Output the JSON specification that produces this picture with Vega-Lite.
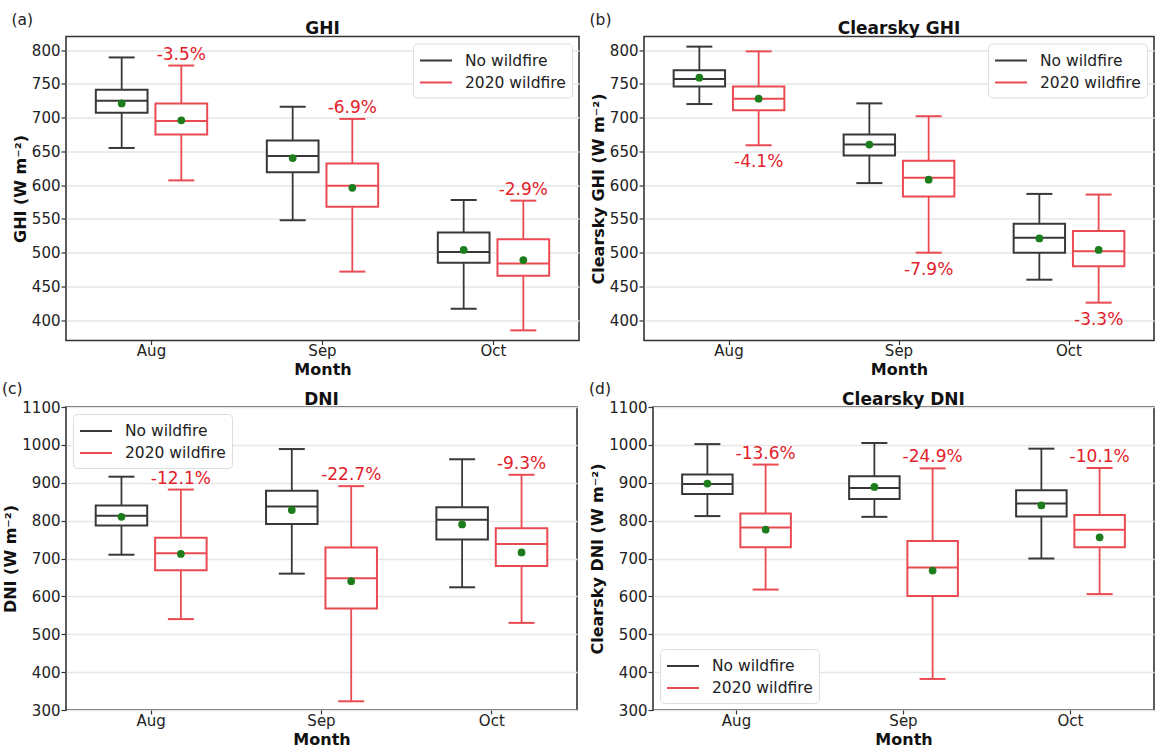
{
  "$schema": "https://vega.github.io/schema/vega-lite/v6.json",
  "background": "white",
  "padding": {"left": 2, "top": 12.5, "right": 0, "bottom": 0},
  "datasets": {
    "boxes": [
      {"panel": "GHI", "month": "Aug", "group": "No wildfire", "lower": 655, "q1": 707, "median": 725, "q3": 741, "upper": 789, "mean": 721, "change": null},
      {"panel": "GHI", "month": "Aug", "group": "2020 wildfire", "lower": 607, "q1": 675, "median": 695, "q3": 721, "upper": 777, "mean": 696, "change": "-3.5%"},
      {"panel": "GHI", "month": "Sep", "group": "No wildfire", "lower": 548, "q1": 619, "median": 643, "q3": 666, "upper": 716, "mean": 640, "change": null},
      {"panel": "GHI", "month": "Sep", "group": "2020 wildfire", "lower": 472, "q1": 568, "median": 599, "q3": 632, "upper": 698, "mean": 596, "change": "-6.9%"},
      {"panel": "GHI", "month": "Oct", "group": "No wildfire", "lower": 417, "q1": 485, "median": 501, "q3": 530, "upper": 578, "mean": 504, "change": null},
      {"panel": "GHI", "month": "Oct", "group": "2020 wildfire", "lower": 385, "q1": 466, "median": 484, "q3": 520, "upper": 577, "mean": 489, "change": "-2.9%"},

      {"panel": "CGHI", "month": "Aug", "group": "No wildfire", "lower": 720, "q1": 746, "median": 757, "q3": 770, "upper": 805, "mean": 759, "change": null},
      {"panel": "CGHI", "month": "Aug", "group": "2020 wildfire", "lower": 659, "q1": 711, "median": 728, "q3": 746, "upper": 798, "mean": 728, "change": "-4.1%"},
      {"panel": "CGHI", "month": "Sep", "group": "No wildfire", "lower": 603, "q1": 644, "median": 660, "q3": 675, "upper": 721, "mean": 660, "change": null},
      {"panel": "CGHI", "month": "Sep", "group": "2020 wildfire", "lower": 500, "q1": 583, "median": 611, "q3": 636, "upper": 702, "mean": 608, "change": "-7.9%"},
      {"panel": "CGHI", "month": "Oct", "group": "No wildfire", "lower": 460, "q1": 500, "median": 522, "q3": 543, "upper": 587, "mean": 521, "change": null},
      {"panel": "CGHI", "month": "Oct", "group": "2020 wildfire", "lower": 426, "q1": 480, "median": 502, "q3": 532, "upper": 586, "mean": 504, "change": "-3.3%"},

      {"panel": "DNI", "month": "Aug", "group": "No wildfire", "lower": 710, "q1": 787, "median": 813, "q3": 840, "upper": 916, "mean": 810, "change": null},
      {"panel": "DNI", "month": "Aug", "group": "2020 wildfire", "lower": 540, "q1": 669, "median": 714, "q3": 755, "upper": 882, "mean": 712, "change": "-12.1%"},
      {"panel": "DNI", "month": "Sep", "group": "No wildfire", "lower": 660, "q1": 791, "median": 837, "q3": 879, "upper": 989, "mean": 828, "change": null},
      {"panel": "DNI", "month": "Sep", "group": "2020 wildfire", "lower": 323, "q1": 568, "median": 648, "q3": 729, "upper": 891, "mean": 640, "change": "-22.7%"},
      {"panel": "DNI", "month": "Oct", "group": "No wildfire", "lower": 624, "q1": 750, "median": 802, "q3": 835, "upper": 962, "mean": 790, "change": null},
      {"panel": "DNI", "month": "Oct", "group": "2020 wildfire", "lower": 530, "q1": 680, "median": 738, "q3": 780, "upper": 921, "mean": 716, "change": "-9.3%"},

      {"panel": "CDNI", "month": "Aug", "group": "No wildfire", "lower": 812, "q1": 870, "median": 897, "q3": 922, "upper": 1002, "mean": 898, "change": null},
      {"panel": "CDNI", "month": "Aug", "group": "2020 wildfire", "lower": 618, "q1": 730, "median": 782, "q3": 819, "upper": 948, "mean": 776, "change": "-13.6%"},
      {"panel": "CDNI", "month": "Sep", "group": "No wildfire", "lower": 810, "q1": 857, "median": 886, "q3": 917, "upper": 1005, "mean": 889, "change": null},
      {"panel": "CDNI", "month": "Sep", "group": "2020 wildfire", "lower": 382, "q1": 601, "median": 676, "q3": 746, "upper": 938, "mean": 668, "change": "-24.9%"},
      {"panel": "CDNI", "month": "Oct", "group": "No wildfire", "lower": 700, "q1": 811, "median": 845, "q3": 880, "upper": 990, "mean": 840, "change": null},
      {"panel": "CDNI", "month": "Oct", "group": "2020 wildfire", "lower": 606, "q1": 730, "median": 776, "q3": 815, "upper": 939, "mean": 756, "change": "-10.1%"}
    ]
  },
  "columns": 2,
  "align": "none",
  "spacing": {"row": 2.5, "column": 9},
  "resolve": {"scale": {"stroke": "independent", "color": "independent", "y": "independent", "x": "independent", "xOffset": "independent"}, "legend": {"stroke": "independent", "color": "independent"}},
  "concat": [
    {
      "title": {"text": "(a)", "anchor": "start", "frame": "bounds", "font": "DejaVu Sans", "fontSize": 15.5, "fontWeight": "normal", "offset": -9.5, "color": "#222"},
      "resolve": {"scale": {"stroke": "independent", "color": "independent"}, "legend": {"stroke": "independent", "color": "independent"}},
      "vconcat": [
        {
          "width": 513, "height": 304,
          "title": {"text": "GHI", "offset": -1},
          "data": {"name": "boxes"},
          "transform": [{"filter": "datum.panel === 'GHI'"}],
          "encoding": {
            "x": {"field": "month", "type": "nominal", "sort": ["Aug", "Sep", "Oct"], "scale": {"paddingInner": 0, "paddingOuter": 0}, "axis": {"title": "Month", "labelAngle": 0}},
            "xOffset": {"field": "group", "type": "nominal", "sort": ["No wildfire", "2020 wildfire"], "scale": {"paddingInner": 0.133, "paddingOuter": 0.5}}
          },
          "layer": [
            {"mark": {"type": "rule", "strokeWidth": 1.8},
             "encoding": {
               "y": {"field": "lower", "type": "quantitative", "title": "GHI (W m⁻²)", "scale": {"domain": [370, 820], "nice": false, "zero": false}, "axis": {"values": [400, 450, 500, 550, 600, 650, 700, 750, 800]}},
               "y2": {"field": "upper"},
               "stroke": {"field": "group", "type": "nominal", "scale": {"domain": ["No wildfire", "2020 wildfire"], "range": ["#383838", "#ea4b52"]}, "legend": {"orient": "top-right"}}
             }},
            {"mark": {"type": "bar", "fill": "white", "strokeWidth": 2},
             "encoding": {"y": {"field": "q1", "type": "quantitative", "title": "GHI (W m⁻²)", "axis": {"values": [400, 450, 500, 550, 600, 650, 700, 750, 800]}}, "y2": {"field": "q3"}, "stroke": {"field": "group", "type": "nominal", "legend": null}}},
            {"mark": {"type": "tick", "thickness": 2, "size": 52, "opacity": 1},
             "encoding": {"y": {"field": "median", "type": "quantitative", "title": "GHI (W m⁻²)", "axis": {"values": [400, 450, 500, 550, 600, 650, 700, 750, 800]}}, "color": {"field": "group", "type": "nominal", "scale": {"domain": ["No wildfire", "2020 wildfire"], "range": ["#383838", "#ea4b52"]}, "legend": null}}},
            {"mark": {"type": "tick", "thickness": 2, "size": 26, "opacity": 1},
             "encoding": {"y": {"field": "upper", "type": "quantitative", "title": "GHI (W m⁻²)", "axis": {"values": [400, 450, 500, 550, 600, 650, 700, 750, 800]}}, "color": {"field": "group", "type": "nominal", "legend": null}}},
            {"mark": {"type": "tick", "thickness": 2, "size": 26, "opacity": 1},
             "encoding": {"y": {"field": "lower", "type": "quantitative", "title": "GHI (W m⁻²)", "axis": {"values": [400, 450, 500, 550, 600, 650, 700, 750, 800]}}, "color": {"field": "group", "type": "nominal", "legend": null}}},
            {"mark": {"type": "circle", "size": 60, "color": "#1d7d1d", "opacity": 1},
             "encoding": {"y": {"field": "mean", "type": "quantitative", "title": "GHI (W m⁻²)", "axis": {"values": [400, 450, 500, 550, 600, 650, 700, 750, 800]}}}},
            {"transform": [{"filter": "datum.change != null"}],
             "mark": {"type": "text", "font": "DejaVu Sans", "fontSize": 17, "color": "#e3212a", "baseline": "alphabetic", "dy": -6},
             "encoding": {"y": {"field": "upper", "type": "quantitative", "title": "GHI (W m⁻²)", "axis": {"values": [400, 450, 500, 550, 600, 650, 700, 750, 800]}}, "text": {"field": "change"}}}
          ]
        }
      ]
    },
    {
      "title": {"text": "(b)", "anchor": "start", "frame": "bounds", "font": "DejaVu Sans", "fontSize": 15.5, "fontWeight": "normal", "offset": -9.5, "color": "#222"},
      "resolve": {"scale": {"stroke": "independent", "color": "independent"}, "legend": {"stroke": "independent", "color": "independent"}},
      "vconcat": [
        {
          "width": 510, "height": 304,
          "title": {"text": "Clearsky GHI", "offset": -1},
          "data": {"name": "boxes"},
          "transform": [{"filter": "datum.panel === 'CGHI'"}],
          "encoding": {
            "x": {"field": "month", "type": "nominal", "sort": ["Aug", "Sep", "Oct"], "scale": {"paddingInner": 0, "paddingOuter": 0}, "axis": {"title": "Month", "labelAngle": 0}},
            "xOffset": {"field": "group", "type": "nominal", "sort": ["No wildfire", "2020 wildfire"], "scale": {"paddingInner": 0.133, "paddingOuter": 0.5}}
          },
          "layer": [
            {"mark": {"type": "rule", "strokeWidth": 1.8},
             "encoding": {
               "y": {"field": "lower", "type": "quantitative", "title": "Clearsky GHI (W m⁻²)", "scale": {"domain": [370, 820], "nice": false, "zero": false}, "axis": {"values": [400, 450, 500, 550, 600, 650, 700, 750, 800]}},
               "y2": {"field": "upper"},
               "stroke": {"field": "group", "type": "nominal", "scale": {"domain": ["No wildfire", "2020 wildfire"], "range": ["#383838", "#ea4b52"]}, "legend": {"orient": "top-right"}}
             }},
            {"mark": {"type": "bar", "fill": "white", "strokeWidth": 2},
             "encoding": {"y": {"field": "q1", "type": "quantitative", "title": "Clearsky GHI (W m⁻²)", "axis": {"values": [400, 450, 500, 550, 600, 650, 700, 750, 800]}}, "y2": {"field": "q3"}, "stroke": {"field": "group", "type": "nominal", "legend": null}}},
            {"mark": {"type": "tick", "thickness": 2, "size": 52, "opacity": 1},
             "encoding": {"y": {"field": "median", "type": "quantitative", "title": "Clearsky GHI (W m⁻²)", "axis": {"values": [400, 450, 500, 550, 600, 650, 700, 750, 800]}}, "color": {"field": "group", "type": "nominal", "scale": {"domain": ["No wildfire", "2020 wildfire"], "range": ["#383838", "#ea4b52"]}, "legend": null}}},
            {"mark": {"type": "tick", "thickness": 2, "size": 26, "opacity": 1},
             "encoding": {"y": {"field": "upper", "type": "quantitative", "title": "Clearsky GHI (W m⁻²)", "axis": {"values": [400, 450, 500, 550, 600, 650, 700, 750, 800]}}, "color": {"field": "group", "type": "nominal", "legend": null}}},
            {"mark": {"type": "tick", "thickness": 2, "size": 26, "opacity": 1},
             "encoding": {"y": {"field": "lower", "type": "quantitative", "title": "Clearsky GHI (W m⁻²)", "axis": {"values": [400, 450, 500, 550, 600, 650, 700, 750, 800]}}, "color": {"field": "group", "type": "nominal", "legend": null}}},
            {"mark": {"type": "circle", "size": 60, "color": "#1d7d1d", "opacity": 1},
             "encoding": {"y": {"field": "mean", "type": "quantitative", "title": "Clearsky GHI (W m⁻²)", "axis": {"values": [400, 450, 500, 550, 600, 650, 700, 750, 800]}}}},
            {"transform": [{"filter": "datum.change != null"}],
             "mark": {"type": "text", "font": "DejaVu Sans", "fontSize": 17, "color": "#e3212a", "baseline": "alphabetic", "dy": 22},
             "encoding": {"y": {"field": "lower", "type": "quantitative", "title": "Clearsky GHI (W m⁻²)", "axis": {"values": [400, 450, 500, 550, 600, 650, 700, 750, 800]}}, "text": {"field": "change"}}}
          ]
        }
      ]
    },
    {
      "title": {"text": "(c)", "anchor": "start", "frame": "bounds", "font": "DejaVu Sans", "fontSize": 15.5, "fontWeight": "normal", "offset": -7, "color": "#222"},
      "resolve": {"scale": {"stroke": "independent", "color": "independent"}, "legend": {"stroke": "independent", "color": "independent"}},
      "vconcat": [
        {
          "width": 511, "height": 303,
          "title": {"text": "DNI", "offset": -9},
          "data": {"name": "boxes"},
          "transform": [{"filter": "datum.panel === 'DNI'"}],
          "encoding": {
            "x": {"field": "month", "type": "nominal", "sort": ["Aug", "Sep", "Oct"], "scale": {"paddingInner": 0, "paddingOuter": 0}, "axis": {"title": "Month", "labelAngle": 0}},
            "xOffset": {"field": "group", "type": "nominal", "sort": ["No wildfire", "2020 wildfire"], "scale": {"paddingInner": 0.133, "paddingOuter": 0.5}}
          },
          "layer": [
            {"mark": {"type": "rule", "strokeWidth": 1.8},
             "encoding": {
               "y": {"field": "lower", "type": "quantitative", "title": "DNI (W m⁻²)", "scale": {"domain": [300, 1100], "nice": false, "zero": false}, "axis": {"values": [300, 400, 500, 600, 700, 800, 900, 1000, 1100]}},
               "y2": {"field": "upper"},
               "stroke": {"field": "group", "type": "nominal", "scale": {"domain": ["No wildfire", "2020 wildfire"], "range": ["#383838", "#ea4b52"]}, "legend": {"orient": "top-left"}}
             }},
            {"mark": {"type": "bar", "fill": "white", "strokeWidth": 2},
             "encoding": {"y": {"field": "q1", "type": "quantitative", "title": "DNI (W m⁻²)", "axis": {"values": [300, 400, 500, 600, 700, 800, 900, 1000, 1100]}}, "y2": {"field": "q3"}, "stroke": {"field": "group", "type": "nominal", "legend": null}}},
            {"mark": {"type": "tick", "thickness": 2, "size": 52, "opacity": 1},
             "encoding": {"y": {"field": "median", "type": "quantitative", "title": "DNI (W m⁻²)", "axis": {"values": [300, 400, 500, 600, 700, 800, 900, 1000, 1100]}}, "color": {"field": "group", "type": "nominal", "scale": {"domain": ["No wildfire", "2020 wildfire"], "range": ["#383838", "#ea4b52"]}, "legend": null}}},
            {"mark": {"type": "tick", "thickness": 2, "size": 26, "opacity": 1},
             "encoding": {"y": {"field": "upper", "type": "quantitative", "title": "DNI (W m⁻²)", "axis": {"values": [300, 400, 500, 600, 700, 800, 900, 1000, 1100]}}, "color": {"field": "group", "type": "nominal", "legend": null}}},
            {"mark": {"type": "tick", "thickness": 2, "size": 26, "opacity": 1},
             "encoding": {"y": {"field": "lower", "type": "quantitative", "title": "DNI (W m⁻²)", "axis": {"values": [300, 400, 500, 600, 700, 800, 900, 1000, 1100]}}, "color": {"field": "group", "type": "nominal", "legend": null}}},
            {"mark": {"type": "circle", "size": 60, "color": "#1d7d1d", "opacity": 1},
             "encoding": {"y": {"field": "mean", "type": "quantitative", "title": "DNI (W m⁻²)", "axis": {"values": [300, 400, 500, 600, 700, 800, 900, 1000, 1100]}}}},
            {"transform": [{"filter": "datum.change != null"}],
             "mark": {"type": "text", "font": "DejaVu Sans", "fontSize": 17, "color": "#e3212a", "baseline": "alphabetic", "dy": -6},
             "encoding": {"y": {"field": "upper", "type": "quantitative", "title": "DNI (W m⁻²)", "axis": {"values": [300, 400, 500, 600, 700, 800, 900, 1000, 1100]}}, "text": {"field": "change"}}}
          ]
        }
      ]
    },
    {
      "title": {"text": "(d)", "anchor": "start", "frame": "bounds", "font": "DejaVu Sans", "fontSize": 15.5, "fontWeight": "normal", "offset": -7, "color": "#222"},
      "resolve": {"scale": {"stroke": "independent", "color": "independent"}, "legend": {"stroke": "independent", "color": "independent"}},
      "vconcat": [
        {
          "width": 501, "height": 303,
          "title": {"text": "Clearsky DNI", "offset": -9},
          "data": {"name": "boxes"},
          "transform": [{"filter": "datum.panel === 'CDNI'"}],
          "encoding": {
            "x": {"field": "month", "type": "nominal", "sort": ["Aug", "Sep", "Oct"], "scale": {"paddingInner": 0, "paddingOuter": 0}, "axis": {"title": "Month", "labelAngle": 0}},
            "xOffset": {"field": "group", "type": "nominal", "sort": ["No wildfire", "2020 wildfire"], "scale": {"paddingInner": 0.133, "paddingOuter": 0.5}}
          },
          "layer": [
            {"mark": {"type": "rule", "strokeWidth": 1.8},
             "encoding": {
               "y": {"field": "lower", "type": "quantitative", "title": "Clearsky DNI (W m⁻²)", "scale": {"domain": [300, 1100], "nice": false, "zero": false}, "axis": {"values": [300, 400, 500, 600, 700, 800, 900, 1000, 1100]}},
               "y2": {"field": "upper"},
               "stroke": {"field": "group", "type": "nominal", "scale": {"domain": ["No wildfire", "2020 wildfire"], "range": ["#383838", "#ea4b52"]}, "legend": {"orient": "bottom-left"}}
             }},
            {"mark": {"type": "bar", "fill": "white", "strokeWidth": 2},
             "encoding": {"y": {"field": "q1", "type": "quantitative", "title": "Clearsky DNI (W m⁻²)", "axis": {"values": [300, 400, 500, 600, 700, 800, 900, 1000, 1100]}}, "y2": {"field": "q3"}, "stroke": {"field": "group", "type": "nominal", "legend": null}}},
            {"mark": {"type": "tick", "thickness": 2, "size": 50, "opacity": 1},
             "encoding": {"y": {"field": "median", "type": "quantitative", "title": "Clearsky DNI (W m⁻²)", "axis": {"values": [300, 400, 500, 600, 700, 800, 900, 1000, 1100]}}, "color": {"field": "group", "type": "nominal", "scale": {"domain": ["No wildfire", "2020 wildfire"], "range": ["#383838", "#ea4b52"]}, "legend": null}}},
            {"mark": {"type": "tick", "thickness": 2, "size": 26, "opacity": 1},
             "encoding": {"y": {"field": "upper", "type": "quantitative", "title": "Clearsky DNI (W m⁻²)", "axis": {"values": [300, 400, 500, 600, 700, 800, 900, 1000, 1100]}}, "color": {"field": "group", "type": "nominal", "legend": null}}},
            {"mark": {"type": "tick", "thickness": 2, "size": 26, "opacity": 1},
             "encoding": {"y": {"field": "lower", "type": "quantitative", "title": "Clearsky DNI (W m⁻²)", "axis": {"values": [300, 400, 500, 600, 700, 800, 900, 1000, 1100]}}, "color": {"field": "group", "type": "nominal", "legend": null}}},
            {"mark": {"type": "circle", "size": 60, "color": "#1d7d1d", "opacity": 1},
             "encoding": {"y": {"field": "mean", "type": "quantitative", "title": "Clearsky DNI (W m⁻²)", "axis": {"values": [300, 400, 500, 600, 700, 800, 900, 1000, 1100]}}}},
            {"transform": [{"filter": "datum.change != null"}],
             "mark": {"type": "text", "font": "DejaVu Sans", "fontSize": 17, "color": "#e3212a", "baseline": "alphabetic", "dy": -6},
             "encoding": {"y": {"field": "upper", "type": "quantitative", "title": "Clearsky DNI (W m⁻²)", "axis": {"values": [300, 400, 500, 600, 700, 800, 900, 1000, 1100]}}, "text": {"field": "change"}}}
          ]
        }
      ]
    }
  ],
  "config": {
    "view": {"stroke": "#333333", "strokeWidth": 1.6},
    "font": "DejaVu Sans",
    "title": {"font": "DejaVu Sans", "fontSize": 17, "fontWeight": "bold", "color": "#111111"},
    "axis": {
      "labelFont": "DejaVu Sans", "labelFontSize": 15, "labelColor": "#222222", "labelOverlap": false,
      "titleFont": "DejaVu Sans", "titleFontSize": 16, "titleFontWeight": "bold", "titleColor": "#111111",
      "tickColor": "#333333", "tickSize": 5, "tickWidth": 1.2, "labelPadding": 1,
      "domain": false, "gridColor": "#e6e6e6", "gridWidth": 1.5
    },
    "axisX": {"grid": false, "titlePadding": 3, "labelPadding": -1, "tickSize": 4},
    "axisY": {"titlePadding": 3, "format": "d"},
    "legend": {
      "title": null, "symbolType": "M-1.6,0H1.6", "symbolStrokeWidth": 2, "symbolSize": 400, "symbolOffset": 6,
      "labelFont": "DejaVu Sans", "labelFontSize": 15.5, "labelColor": "#222222", "labelOffset": 18,
      "fillColor": "white", "strokeColor": "#dddddd", "cornerRadius": 4, "padding": 6,
      "rowPadding": 2, "offset": 7
    }
  }
}
